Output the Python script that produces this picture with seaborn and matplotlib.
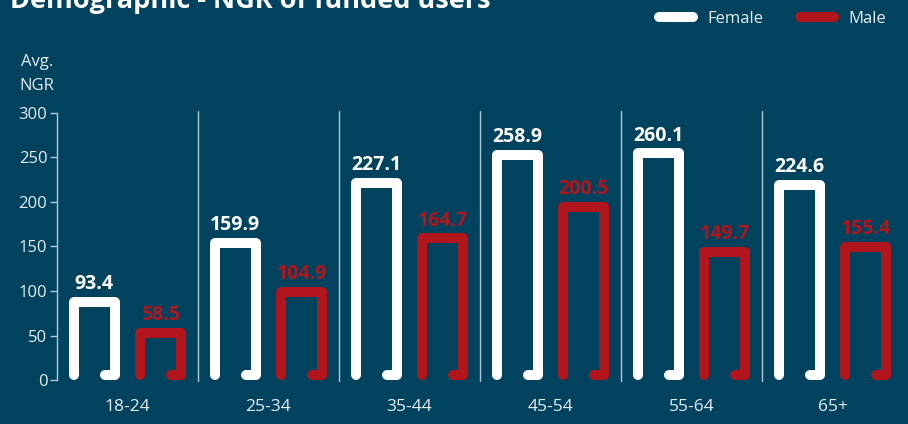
import numpy as np
import pandas as pd
import matplotlib
matplotlib.use("Agg")
import matplotlib.pyplot as plt
from matplotlib.lines import Line2D
import seaborn as sns

# ---- data ----
age_groups = ["18-24", "25-34", "35-44", "45-54", "55-64", "65+"]
female_ngr = [93.4, 159.9, 227.1, 258.9, 260.1, 224.6]
male_ngr = [58.5, 104.9, 164.7, 200.5, 149.7, 155.4]
genders = ["Female", "Male"]
y_ticks = [0, 50, 100, 150, 200, 250, 300]

BG = "#01425F"
WHITE = "#FFFFFF"
RED = "#B2151B"
TXT = "#E6ECF0"
LINE = "#B4C6D2"

df = pd.DataFrame({
    "age": age_groups * 2,
    "ngr": female_ngr + male_ngr,
    "gender": ["Female"] * len(age_groups) + ["Male"] * len(age_groups),
})

sns.set_theme(style="white")
plt.rcParams["font.family"] = ["Open Sans", "DejaVu Sans"]

fig = plt.figure(figsize=(9.08, 4.24), dpi=100, facecolor=BG)
ax = fig.add_axes([57 / 908, 1 - 382 / 424, (903 - 57) / 908, (382 - 111) / 424])
ax.set_facecolor(BG)

palette = {"Female": WHITE, "Male": RED}
sns.barplot(data=df, x="age", y="ngr", hue="gender", hue_order=genders,
            order=age_groups, palette=palette, width=0.94, gap=0.38,
            saturation=1, ax=ax, legend=False)

# replace bars by thick open outlines (drawn from the bars' own geometry)
half = 5.6   # half stroke in data units
foot = 0.07
lw = 7.2
for patch in list(ax.patches):
    x0 = patch.get_x()
    w = patch.get_width()
    h = patch.get_height()
    col = patch.get_facecolor()
    xs = [x0, x0, x0 + w, x0 + w, x0 + w - foot]
    ys = [half, h - half, h - half, half, half]
    ax.plot(xs, ys, color=col, lw=lw, solid_capstyle="round",
            solid_joinstyle="round", zorder=3)
    patch.set_visible(False)

# value labels
for cont, col in zip(ax.containers, [WHITE, RED]):
    ax.bar_label(cont, fmt="%.1f", padding=2, color=col, fontsize=14,
                 fontweight="bold")

ax.set_xlim(-0.5, 5.5)
ax.set_ylim(-2.2, 302.2)
ax.set_yticks(y_ticks)
ax.set_xlabel("")
ax.set_ylabel("")

# group separators
ax.set_xticks(np.arange(0.5, 5, 1), minor=True)
ax.grid(which="minor", axis="x", color=LINE, lw=1)
ax.grid(which="major", visible=False)

for s in ["top", "right", "bottom"]:
    ax.spines[s].set_visible(False)
ax.spines["left"].set_color(LINE)
ax.spines["left"].set_linewidth(1)
ax.spines["left"].set_bounds(0, 300)

ax.tick_params(axis="y", which="major", left=True, length=5, width=1,
               color=LINE, labelcolor=TXT, labelsize=12, pad=2)
ax.tick_params(axis="x", which="both", bottom=False, length=0,
               labelcolor=TXT, labelsize=12.5, pad=12)

fig.text(37 / 908, 1 - 74 / 424, "Avg.\nNGR", ha="center", va="center",
         color=TXT, fontsize=12, linespacing=1.75)

fig.text(10 / 908, 1 - 8 / 424, "Demographic - NGR of funded users",
         ha="left", va="baseline", color=WHITE, fontsize=19.5, fontweight="bold")

handles = [Line2D([], [], color=WHITE, lw=7.2, solid_capstyle="round"),
           Line2D([], [], color=RED, lw=7.2, solid_capstyle="round")]
leg = fig.legend(handles, genders, loc="center right",
                 bbox_to_anchor=(893 / 908, 1 - 19 / 424), ncol=2,
                 frameon=False, fontsize=12, handlelength=2.0,
                 handletextpad=0.9, columnspacing=2.2, borderaxespad=0)
for t in leg.get_texts():
    t.set_color(TXT)

fig.savefig("out.png", dpi=100, facecolor=BG)
